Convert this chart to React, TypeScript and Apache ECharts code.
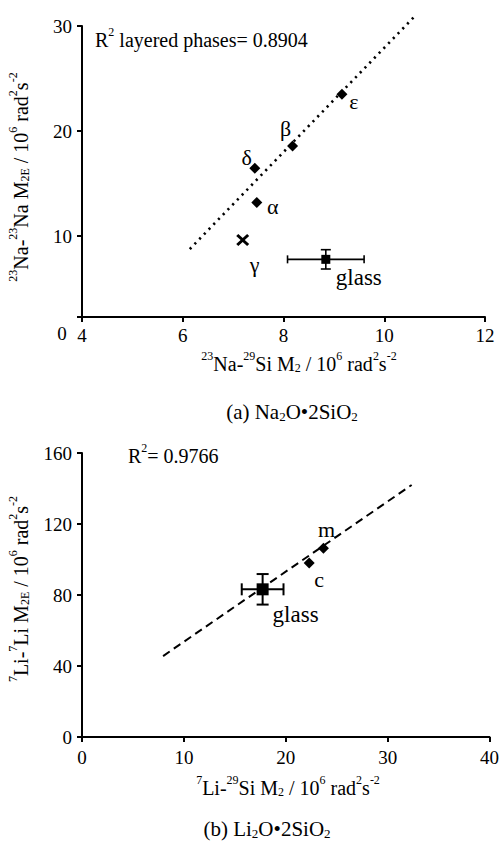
import React, { useEffect, useRef } from "react";
import * as echarts from "echarts";

const FONT = "Liberation Serif";

// ---- (a) Na2O•2SiO2 ----
const phaseNamesA = ["α", "β", "δ", "ε"];
const phaseXA = [7.47, 8.18, 7.43, 9.16];
const phaseYA = [13.2, 18.57, 16.45, 23.5];
const gammaNameA = "γ";
const gammaA = [7.19, 9.62];
const glassA = [8.84, 7.78];
const glassErrA = [0.76, 0.92]; // ± x, ± y
const fitLineA = [
  [6.14, 8.76],
  [10.64, 31.1],
];
const xTicksA = { min: 4, max: 12, step: 2 };
const yLabelsA = [10, 20, 30];
const yMinA = 2.29;
const r2TextA = "0.8904";

// ---- (b) Li2O•2SiO2 ----
const phaseNamesB = ["c", "m"];
const phaseXB = [22.3, 23.7];
const phaseYB = [98.0, 106.4];
const glassB = [17.73, 83.2];
const glassErrB = [2.05, 8.6];
const fitLineB = [
  [7.96, 45.6],
  [32.36, 142],
];
const xTicksB = { min: 0, max: 40, step: 10 };
const yTicksB = { min: 0, max: 160, step: 40 };
const r2TextB = "0.9766";

const labelOffsets: Record<string, [number, number]> = {
  "α": [16, 4],
  "β": [-7, -18],
  "δ": [-8, -11],
  "ε": [12, 7],
  "γ": [12, 24],
  glassA: [33, 18],
  c: [10, 16],
  m: [3, -19],
  glassB: [33, 25],
};

const rich = (size: number) => ({
  n: { fontSize: size, fontFamily: FONT, lineHeight: size + 4, verticalAlign: "bottom", color: "#000" },
  sup: { fontSize: Math.round(size * 0.62), fontFamily: FONT, lineHeight: Math.round(size * 0.7), verticalAlign: "top", color: "#000" },
  sub: { fontSize: Math.round(size * 0.62), fontFamily: FONT, lineHeight: Math.round(size * 0.62), verticalAlign: "bottom", color: "#000" },
});

const crossPath =
  "path://M0,1.6L1.6,0L5,3.4L8.4,0L10,1.6L6.6,5L10,8.4L8.4,10L5,6.6L1.6,10L0,8.4L3.4,5Z";

function pointLabel(text: string, key: string, size = 22) {
  return {
    show: true,
    position: "inside",
    offset: labelOffsets[key],
    formatter: text,
    color: "#000",
    opacity: 1,
    fontFamily: FONT,
    fontSize: size,
  };
}

function errorBarSeries(xAxisIndex: number, center: number[], err: number[], cap: [number, number], lw: number) {
  return {
    type: "custom",
    xAxisIndex,
    yAxisIndex: xAxisIndex,
    clip: false,
    silent: true,
    data: [[center[0], center[1], err[0], err[1]]],
    renderItem: (_params: any, api: any) => {
      const x = api.value(0);
      const y = api.value(1);
      const ex = api.value(2);
      const ey = api.value(3);
      const l = api.coord([x - ex, y]);
      const r = api.coord([x + ex, y]);
      const t = api.coord([x, y + ey]);
      const b = api.coord([x, y - ey]);
      const style = { stroke: "#000", lineWidth: lw, fill: null };
      const ln = (x1: number, y1: number, x2: number, y2: number) => ({
        type: "line",
        shape: { x1, y1, x2, y2 },
        style,
      });
      const [hc, vc] = cap;
      return {
        type: "group",
        children: [
          ln(l[0], l[1], r[0], r[1]),
          ln(l[0], l[1] - hc, l[0], l[1] + hc),
          ln(r[0], r[1] - hc, r[0], r[1] + hc),
          ln(t[0], t[1], b[0], b[1]),
          ln(t[0] - vc, t[1], t[0] + vc, t[1]),
          ln(b[0] - vc, b[1], b[0] + vc, b[1]),
        ],
      };
    },
  };
}

const axisLineStyle = { lineStyle: { color: "#000", width: 2 } };
const tickStyle = { show: true, inside: false, length: 5, lineStyle: { color: "#000", width: 2 } };
const tickLabel = { color: "#000", fontFamily: FONT, fontSize: 19 };
const markStyle = { color: "#000", opacity: 1 };

function buildOption() {
  return {
    animation: false,
    backgroundColor: "#fff",
    textStyle: { fontFamily: FONT, color: "#000" },
    grid: [
      { left: 82, top: 26, width: 403, height: 291 },
      { left: 82, top: 453, width: 409, height: 284 },
    ],
    xAxis: [
      {
        type: "value",
        gridIndex: 0,
        min: xTicksA.min,
        max: xTicksA.max,
        interval: xTicksA.step,
        axisLine: { show: true, onZero: false, ...axisLineStyle },
        axisTick: tickStyle,
        axisLabel: { ...tickLabel, margin: 9 },
        splitLine: { show: false },
      },
      {
        type: "value",
        gridIndex: 1,
        min: xTicksB.min,
        max: xTicksB.max,
        interval: xTicksB.step,
        axisLine: { show: true, onZero: false, ...axisLineStyle },
        axisTick: tickStyle,
        axisLabel: { ...tickLabel, margin: 11 },
        splitLine: { show: false },
      },
    ],
    yAxis: [
      {
        type: "value",
        gridIndex: 0,
        min: yMinA,
        max: yLabelsA[yLabelsA.length - 1],
        axisLine: { show: true, onZero: false, ...axisLineStyle },
        axisTick: { ...tickStyle, customValues: [yMinA, ...yLabelsA] },
        axisLabel: { ...tickLabel, margin: 10, customValues: yLabelsA },
        splitLine: { show: false },
      },
      {
        type: "value",
        gridIndex: 1,
        min: yTicksB.min,
        max: yTicksB.max,
        interval: yTicksB.step,
        axisLine: { show: true, onZero: false, ...axisLineStyle },
        axisTick: tickStyle,
        axisLabel: { ...tickLabel, margin: 10 },
        splitLine: { show: false },
      },
    ],
    series: [
      // (a) regression through the layered phases
      {
        type: "line",
        xAxisIndex: 0,
        yAxisIndex: 0,
        data: fitLineA,
        symbol: "none",
        clip: false,
        lineStyle: { color: "#000", width: 2.6, type: [2.2, 4.6], cap: "butt" },
        silent: true,
      },
      {
        type: "scatter",
        xAxisIndex: 0,
        yAxisIndex: 0,
        symbol: "diamond",
        symbolSize: 11,
        itemStyle: markStyle,
        data: phaseNamesA.map((n, i) => ({
          value: [phaseXA[i], phaseYA[i]],
          label: pointLabel(n, n),
        })),
      },
      {
        type: "scatter",
        xAxisIndex: 0,
        yAxisIndex: 0,
        symbol: crossPath,
        symbolSize: [13, 12],
        itemStyle: markStyle,
        data: [{ value: gammaA, label: pointLabel(gammaNameA, "γ") }],
      },
      errorBarSeries(0, glassA, glassErrA, [4, 5], 1.6),
      {
        type: "scatter",
        xAxisIndex: 0,
        yAxisIndex: 0,
        symbol: "rect",
        symbolSize: 9,
        itemStyle: markStyle,
        data: [{ value: glassA, label: pointLabel("glass", "glassA", 23) }],
      },
      // (b) regression
      {
        type: "line",
        xAxisIndex: 1,
        yAxisIndex: 1,
        data: fitLineB,
        symbol: "none",
        clip: false,
        lineStyle: { color: "#000", width: 2, type: [8, 5], cap: "butt" },
        silent: true,
      },
      {
        type: "scatter",
        xAxisIndex: 1,
        yAxisIndex: 1,
        symbol: "diamond",
        symbolSize: 11,
        itemStyle: markStyle,
        data: phaseNamesB.map((n, i) => ({
          value: [phaseXB[i], phaseYB[i]],
          label: pointLabel(n, n),
        })),
      },
      errorBarSeries(1, glassB, glassErrB, [6, 6], 2),
      {
        type: "scatter",
        xAxisIndex: 1,
        yAxisIndex: 1,
        symbol: "rect",
        symbolSize: 12,
        itemStyle: markStyle,
        data: [{ value: glassB, label: pointLabel("glass", "glassB", 23) }],
      },
    ],
    graphic: [
      // lowest value on the (a) y axis
      {
        type: "text",
        x: 62,
        y: 333,
        style: { text: "0", fontFamily: FONT, fontSize: 19, fill: "#000", align: "center", verticalAlign: "middle" },
      },
      {
        type: "text",
        x: 95,
        y: 38,
        style: {
          text: `{n|R}{sup|2}{n| layered phases= ${r2TextA}}`,
          rich: rich(20),
          fontFamily: FONT,
          align: "left",
          verticalAlign: "middle",
        },
      },
      {
        type: "text",
        x: 128,
        y: 454,
        style: {
          text: `{n|R}{sup|2}{n|= ${r2TextB}}`,
          rich: rich(20),
          fontFamily: FONT,
          align: "left",
          verticalAlign: "middle",
        },
      },
      // axis titles (a)
      {
        type: "text",
        x: 19,
        y: 177,
        rotation: Math.PI / 2,
        style: {
          text: "{sup|23}{n|Na-}{sup|23}{n|Na M}{sub|2E}{n| / 10}{sup|6}{n| rad}{sup|2}{n|s}{sup|-2}",
          rich: rich(20),
          fontFamily: FONT,
          align: "center",
          verticalAlign: "middle",
        },
      },
      {
        type: "text",
        x: 299,
        y: 362,
        style: {
          text: "{sup|23}{n|Na-}{sup|29}{n|Si M}{sub|2}{n| / 10}{sup|6}{n| rad}{sup|2}{n|s}{sup|-2}",
          rich: rich(20),
          fontFamily: FONT,
          align: "center",
          verticalAlign: "middle",
        },
      },
      {
        type: "text",
        x: 292,
        y: 410,
        style: {
          text: "{n|(a) Na}{sub|2}{n|O•2SiO}{sub|2}",
          rich: rich(21),
          fontFamily: FONT,
          align: "center",
          verticalAlign: "middle",
        },
      },
      // axis titles (b)
      {
        type: "text",
        x: 19,
        y: 589,
        rotation: Math.PI / 2,
        style: {
          text: "{sup|7}{n|Li-}{sup|7}{n|Li M}{sub|2E}{n| / 10}{sup|6}{n| rad}{sup|2}{n|s}{sup|-2}",
          rich: rich(20),
          fontFamily: FONT,
          align: "center",
          verticalAlign: "middle",
        },
      },
      {
        type: "text",
        x: 288,
        y: 786,
        style: {
          text: "{sup|7}{n|Li-}{sup|29}{n|Si M}{sub|2}{n| / 10}{sup|6}{n| rad}{sup|2}{n|s}{sup|-2}",
          rich: rich(20),
          fontFamily: FONT,
          align: "center",
          verticalAlign: "middle",
        },
      },
      {
        type: "text",
        x: 267,
        y: 827,
        style: {
          text: "{n|(b) Li}{sub|2}{n|O•2SiO}{sub|2}",
          rich: rich(21),
          fontFamily: FONT,
          align: "center",
          verticalAlign: "middle",
        },
      },
    ],
  };
}

export default function App() {
  const ref = useRef<HTMLDivElement>(null);
  useEffect(() => {
    if (!ref.current) return;
    const chart = echarts.init(ref.current, null, { renderer: "svg" });
    chart.setOption(buildOption() as any);
    return () => chart.dispose();
  }, []);
  return (
    <div
      ref={ref}
      style={{ position: "absolute", left: 0, top: 0, width: 502, height: 842, background: "#fff" }}
    />
  );
}
